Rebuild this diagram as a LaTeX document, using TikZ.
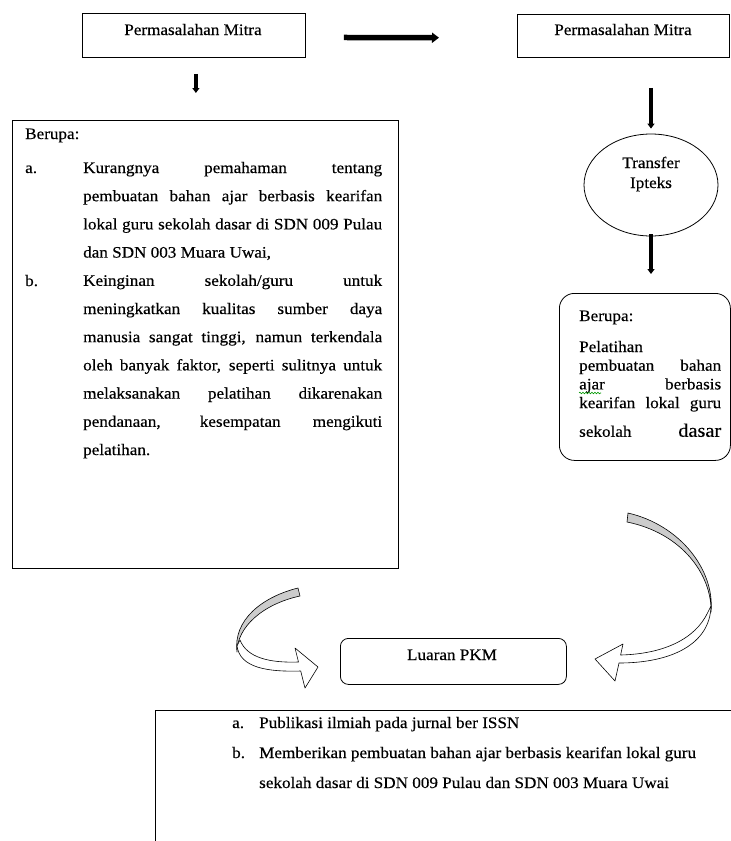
\documentclass[tikz,border=0pt]{standalone}
\usepackage{fontspec}
\setmainfont[FakeStretch=1.07,FakeBold=0.35]{Liberation Serif}
\usetikzlibrary{arrows.meta,shapes.geometric,decorations.pathmorphing}
\begin{document}
\begin{tikzpicture}[x=1pt,y=-1pt,
  every node/.style={font=\fontsize{16}{19}\selectfont},
  plainbox/.style={draw, line width=0.8pt, inner sep=0, anchor=north west},
  fatarrow/.style={line width=5.5pt, -{Triangle[length=7pt,width=10pt]}},
  downarrow/.style={line width=3.6pt, -{Triangle[length=5pt,width=7pt]}},
  txt/.style={anchor=base west, inner sep=0},
  ctxt/.style={anchor=base, inner sep=0},
  ribbon/.style={draw, line width=0.6pt, line join=round}]
\useasboundingbox (0,0) rectangle (731,841);
\fill[white] (0,0) rectangle (731,841);

% boxes
\node[plainbox, minimum width=223pt, minimum height=44pt] (pm1) at (82,13) {};
\node[plainbox, minimum width=212pt, minimum height=43pt] (pm2) at (517,14) {};
\node[plainbox, minimum width=386pt, minimum height=448pt] (big) at (12,120) {};
\node[draw, ellipse, line width=0.8pt, inner sep=0, minimum width=134pt, minimum height=102pt] (tr) at (651,185) {};
\node[plainbox, rounded corners=15pt, minimum width=171pt, minimum height=167pt] (rb) at (559,293) {};
\node[plainbox, rounded corners=8pt, minimum width=226pt, minimum height=46pt] (lu) at (340,638) {};
\node[plainbox, minimum width=620pt, minimum height=160pt] (out) at (155,710) {};

% texts
\node[ctxt] (pm1t) at (193,35) {Permasalahan Mitra};
\node[ctxt] (pm2t) at (623,35) {Permasalahan Mitra};
\node[ctxt] (tr1) at (651,168) {Transfer};
\node[ctxt] (tr2) at (651,188) {Ipteks};
\node[ctxt] (lut) at (452,660) {Luaran PKM};

\node[txt] (bb) at (25,139) {Berupa:};
\node[txt] (ba) at (25,173) {a.};
\node[txt] (bbb) at (25,286) {b.};
\node[txt] (bitems) at (83,173) {\parbox[t]{299pt}{\baselineskip=28.2pt
\makebox[299pt][s]{Kurangnya pemahaman tentang}\par
\makebox[299pt][s]{pembuatan bahan ajar berbasis kearifan}\par
\makebox[299pt][s]{lokal guru sekolah dasar di SDN 009 Pulau}\par
dan SDN 003 Muara Uwai,\par
\makebox[299pt][s]{Keinginan sekolah/guru untuk}\par
\makebox[299pt][s]{meningkatkan kualitas sumber daya}\par
\makebox[299pt][s]{manusia sangat tinggi, namun terkendala}\par
\makebox[299pt][s]{oleh banyak faktor, seperti sulitnya untuk}\par
\makebox[299pt][s]{melaksanakan pelatihan dikarenakan}\par
\makebox[299pt][s]{pendanaan, kesempatan mengikuti}\par
pelatihan.}};

\node[txt] (rbt) at (579,321) {Berupa:};
\node[txt] (rbitems) at (579,352) {\parbox[t]{142pt}{\baselineskip=18.7pt
Pelatihan\par
\makebox[142pt][s]{pembuatan bahan}\par
\makebox[142pt][s]{ajar berbasis}\par
\makebox[142pt][s]{kearifan lokal guru}\par\vspace{10pt}
\makebox[142pt][s]{sekolah {\fontsize{19}{19}\selectfont dasar}}}};
\draw[green!60!black, line width=0.6pt, decorate, decoration={snake, amplitude=0.8pt, segment length=3pt}] (579,393) -- (601,393);

\node[txt] (oa) at (232,728) {a.};
\node[txt] (oat) at (259,728) {Publikasi ilmiah pada jurnal ber ISSN};
\node[txt] (ob) at (232,758) {b.};
\node[txt] (obt) at (259,758) {\parbox[t]{460pt}{\baselineskip=30pt
Memberikan pembuatan bahan ajar berbasis kearifan lokal guru\par
sekolah dasar di SDN 009 Pulau dan SDN 003 Muara Uwai}};

% straight arrows
\draw[fatarrow, shorten <=38pt, shorten >=78pt] ([yshift=-2pt]pm1.east) -- ([yshift=-2pt]pm2.west);
\draw[downarrow, shorten <=16pt, shorten >=27pt] ([xshift=2pt]pm1.south) -- ([xshift=2pt]pm1.south |- big.north);
\draw[downarrow, shorten <=30pt, shorten >=5pt] (pm2.south -| tr.north) -- (tr.north);
\draw[downarrow, shorten <=-2pt, shorten >=19pt] (tr.south) -- (tr.south |- rb.north);

% right curved arrow
\filldraw[ribbon, fill=gray!40] (627,522) -- (628,513) .. controls (680,525) and (715,570) .. (711,612)
  .. controls (712,575) and (682,533) .. (627,522) -- cycle;
\filldraw[ribbon, fill=white] (711,606) .. controls (710,645) and (670,663) .. (619,663)
  -- (615,681) -- (595,659) -- (623,644) -- (620.6,655)
  .. controls (662,654) and (695,640) .. (708,612) -- cycle;

% left curved arrow
\filldraw[ribbon, fill=gray!40] (298,588) -- (300,596) .. controls (263,604) and (237,627) .. (237,652)
  .. controls (233,620) and (262,597) .. (298,588) -- cycle;
\filldraw[ribbon, fill=white] (237,646) .. controls (240,668) and (268,672) .. (300.7,671)
  -- (305,688) -- (318,667) -- (295,648) -- (298.5,662)
  .. controls (270,663) and (247,658) .. (240,640) -- cycle;
\end{tikzpicture}
\end{document}
